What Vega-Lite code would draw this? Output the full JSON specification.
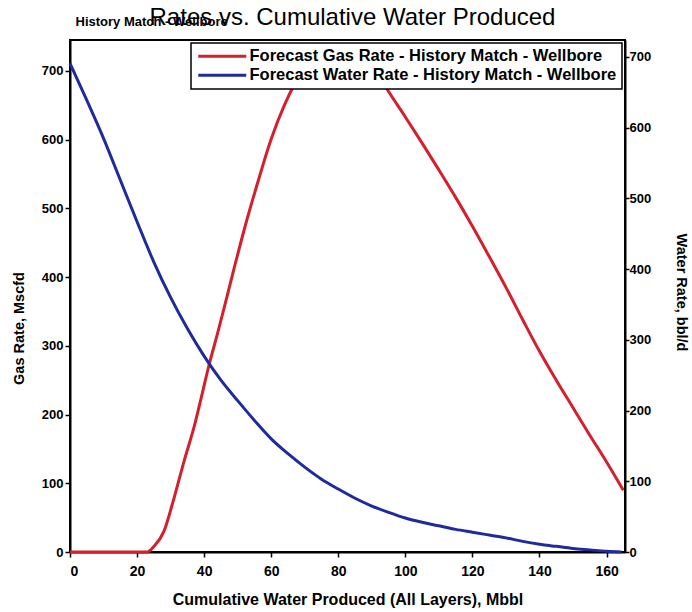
{
  "$schema": "https://vega.github.io/schema/vega-lite/v6.json",
  "width": 555,
  "height": 512,
  "autosize": {"type": "none"},
  "padding": {"left": 70, "top": 40, "right": 67, "bottom": 60},
  "background": "white",
  "title": {
    "text": "Rates vs. Cumulative Water Produced",
    "font": "Liberation Sans",
    "fontSize": 24,
    "fontWeight": "normal",
    "color": "black",
    "anchor": "middle",
    "frame": "group",
    "offset": -15,
    "dx": 5
  },
  "config": {
    "view": {"stroke": "black", "strokeWidth": 2},
    "axis": {
      "grid": false,
      "labelFont": "Liberation Sans",
      "labelFontWeight": "bold",
      "labelFontSize": 13,
      "labelColor": "black",
      "labelPadding": 2,
      "titleFont": "Liberation Sans",
      "titleFontWeight": "bold",
      "titleFontSize": 14.5,
      "titleColor": "black",
      "domainColor": "black",
      "domainWidth": 2,
      "tickColor": "black",
      "tickWidth": 1.5,
      "tickSize": 5
    },
    "legend": {
      "labelFont": "Liberation Sans",
      "labelFontWeight": "bold",
      "labelFontSize": 16.5,
      "labelColor": "black",
      "labelLimit": 600,
      "strokeWidth": 1.5
    }
  },
  "datasets": {
    "gas": [
      {"cum": 0, "rate": 0}, {"cum": 5, "rate": 0}, {"cum": 10, "rate": 0},
      {"cum": 15, "rate": 0}, {"cum": 20, "rate": 0}, {"cum": 23, "rate": 0},
      {"cum": 25, "rate": 8}, {"cum": 28, "rate": 30}, {"cum": 31, "rate": 78},
      {"cum": 34, "rate": 132}, {"cum": 37, "rate": 182}, {"cum": 39.5, "rate": 232},
      {"cum": 41.4, "rate": 271}, {"cum": 44, "rate": 318}, {"cum": 46, "rate": 356},
      {"cum": 49, "rate": 414}, {"cum": 52, "rate": 470}, {"cum": 56, "rate": 538},
      {"cum": 60, "rate": 601}, {"cum": 64, "rate": 651}, {"cum": 67, "rate": 681},
      {"cum": 70, "rate": 704}, {"cum": 75, "rate": 728}, {"cum": 80, "rate": 738},
      {"cum": 85, "rate": 733}, {"cum": 90, "rate": 710}, {"cum": 95, "rate": 670},
      {"cum": 100, "rate": 633}, {"cum": 105, "rate": 595}, {"cum": 110, "rate": 556},
      {"cum": 115, "rate": 516}, {"cum": 120, "rate": 474}, {"cum": 125, "rate": 430},
      {"cum": 130, "rate": 385}, {"cum": 135, "rate": 338}, {"cum": 140, "rate": 292},
      {"cum": 145, "rate": 250}, {"cum": 150, "rate": 210}, {"cum": 155, "rate": 170},
      {"cum": 160, "rate": 131}, {"cum": 165, "rate": 90}
    ],
    "water": [
      {"cum": 0, "rate": 691}, {"cum": 5, "rate": 639}, {"cum": 10, "rate": 585},
      {"cum": 15, "rate": 526}, {"cum": 20, "rate": 467}, {"cum": 25, "rate": 410},
      {"cum": 30, "rate": 360}, {"cum": 35, "rate": 316}, {"cum": 40, "rate": 277},
      {"cum": 45, "rate": 243}, {"cum": 50, "rate": 214}, {"cum": 55, "rate": 186},
      {"cum": 60, "rate": 160}, {"cum": 65, "rate": 139}, {"cum": 70, "rate": 120},
      {"cum": 75, "rate": 103}, {"cum": 80, "rate": 89}, {"cum": 85, "rate": 76},
      {"cum": 90, "rate": 65}, {"cum": 95, "rate": 56}, {"cum": 100, "rate": 48},
      {"cum": 105, "rate": 42}, {"cum": 110, "rate": 37}, {"cum": 115, "rate": 32},
      {"cum": 120, "rate": 28}, {"cum": 125, "rate": 24}, {"cum": 130, "rate": 20},
      {"cum": 135, "rate": 15}, {"cum": 140, "rate": 11}, {"cum": 145, "rate": 8},
      {"cum": 150, "rate": 5}, {"cum": 155, "rate": 3}, {"cum": 160, "rate": 1},
      {"cum": 164.5, "rate": 0}
    ]
  },
  "layer": [
    {
      "data": {"name": "gas"},
      "mark": {"type": "line", "strokeWidth": 3, "strokeJoin": "round", "interpolate": "monotone"},
      "encoding": {
        "x": {
          "field": "cum",
          "type": "quantitative",
          "scale": {"domain": [0, 165.5], "nice": false},
          "axis": {
            "orient": "bottom",
            "values": [0, 20, 40, 60, 80, 100, 120, 140, 160],
            "labelFontSize": 14,
            "labelPadding": 7,
            "title": "Cumulative Water Produced (All Layers), Mbbl",
            "titleFontSize": 16,
            "titlePadding": 13
          }
        },
        "y": {
          "field": "rate",
          "type": "quantitative",
          "scale": {"domain": [0, 745], "nice": false},
          "axis": {
            "orient": "left",
            "values": [0, 100, 200, 300, 400, 500, 600, 700],
            "title": "Gas Rate, Mscfd",
            "titleY": 288,
            "titlePadding": 15
          }
        },
        "color": {
          "datum": "Forecast Gas Rate - History Match - Wellbore",
          "scale": {
            "domain": [
              "Forecast Gas Rate - History Match - Wellbore",
              "Forecast Water Rate - History Match - Wellbore"
            ],
            "range": ["#d3202c", "#1f2b9c"]
          },
          "legend": {
            "title": null,
            "orient": "top-right",
            "offset": 3,
            "symbolType": "M-1,0H7",
            "symbolSize": 144,
            "symbolStrokeWidth": 3,
            "labelOffset": 37,
            "fillColor": "white",
            "strokeColor": "black",
            "padding": 5,
            "rowPadding": 2
          }
        }
      }
    },
    {
      "data": {"name": "water"},
      "mark": {"type": "line", "strokeWidth": 3, "strokeJoin": "round", "interpolate": "monotone"},
      "encoding": {
        "x": {
          "field": "cum",
          "type": "quantitative",
          "axis": {
            "orient": "top",
            "labels": false,
            "ticks": false,
            "domain": false,
            "title": "History Match - Wellbore",
            "titleFontSize": 13,
            "titleAnchor": "start",
            "titleAlign": "left",
            "titleX": 5,
            "titlePadding": 12
          }
        },
        "y": {
          "field": "rate",
          "type": "quantitative",
          "scale": {"domain": [0, 724], "nice": false},
          "axis": {
            "orient": "right",
            "values": [0, 100, 200, 300, 400, 500, 600, 700],
            "tickSize": 4,
            "labelPadding": 0,
            "title": "Water Rate, bbl/d",
            "titleY": 252,
            "titlePadding": 23
          }
        },
        "color": {"datum": "Forecast Water Rate - History Match - Wellbore"}
      }
    }
  ],
  "resolve": {"scale": {"y": "independent"}, "axis": {"x": "independent"}}
}
